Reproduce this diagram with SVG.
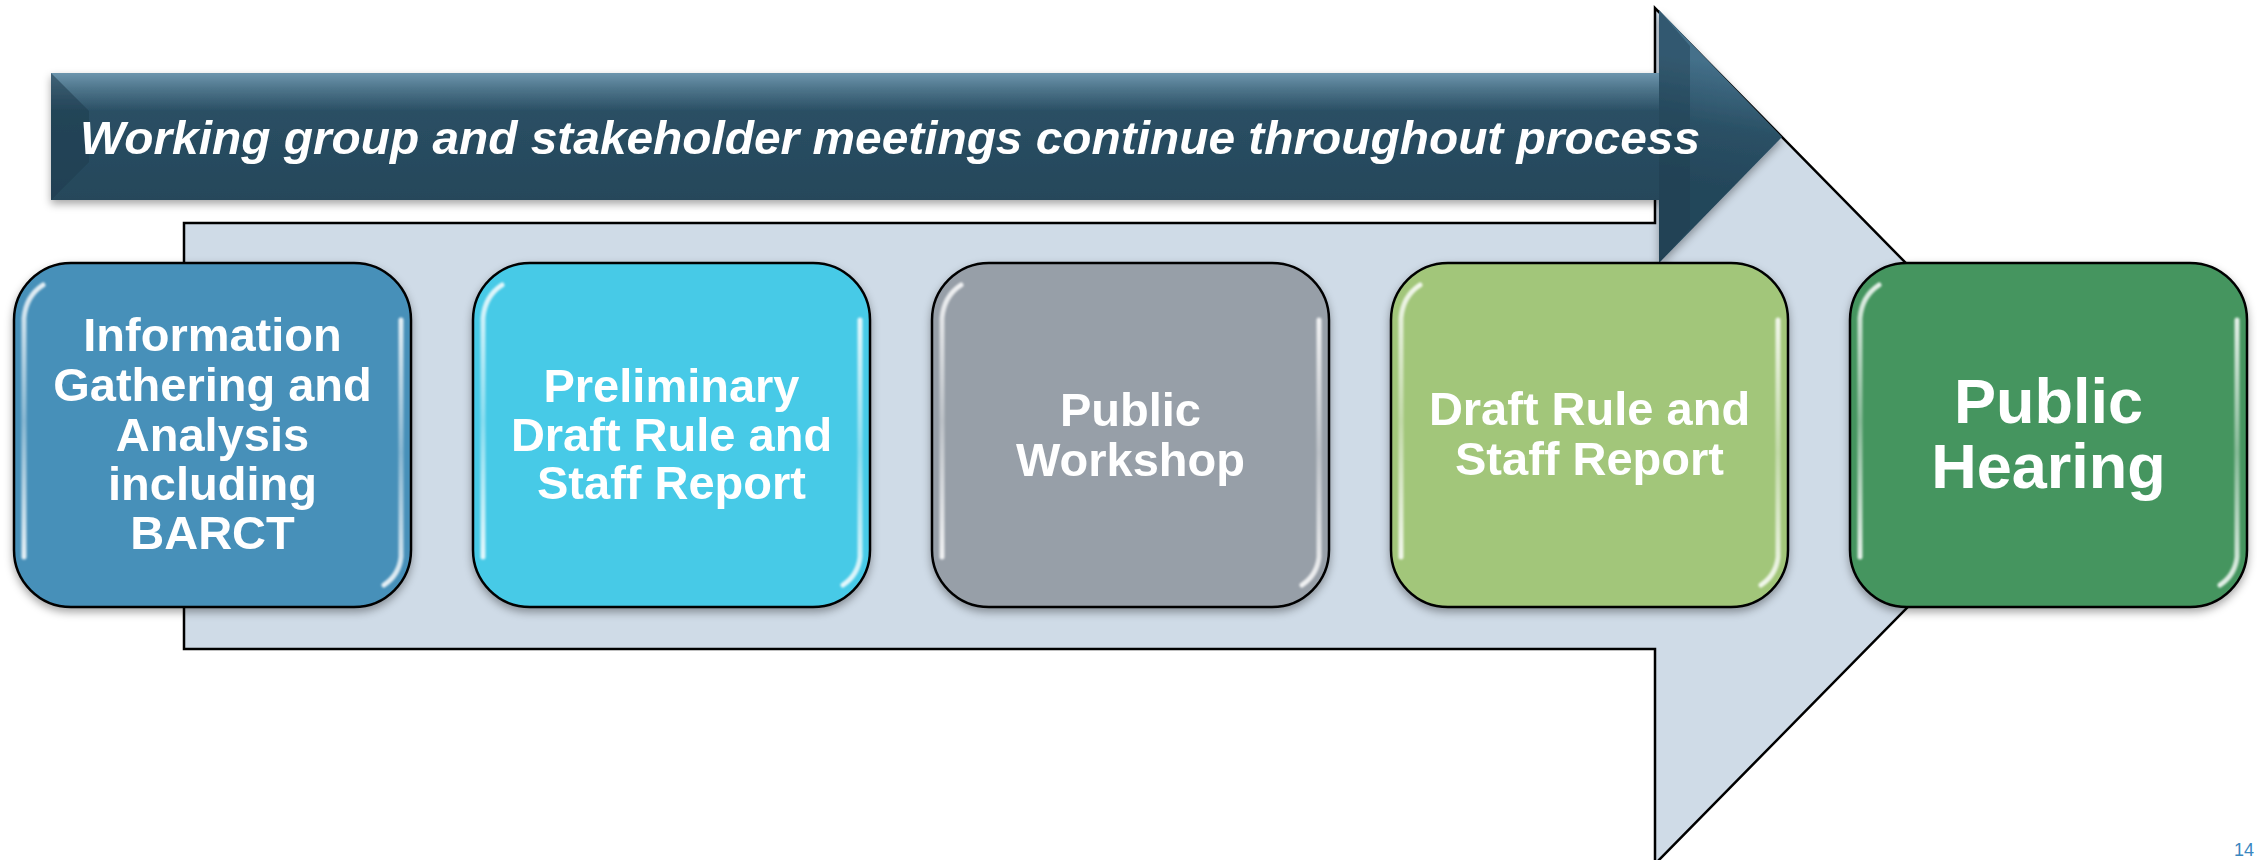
<svg xmlns="http://www.w3.org/2000/svg" width="2257" height="860" viewBox="0 0 2257 860">
  <defs>
    <style>
      .box { stroke: #000; stroke-width: 2.5; filter: url(#shadow); }
      .hl { fill: none; stroke: url(#hlgrad); stroke-width: 5; stroke-linecap: round; filter: url(#soft); }
      .lbl { font-family: "Liberation Sans", Arial, sans-serif; font-weight: bold; fill: #fff; text-anchor: middle; font-size: 47px; }
      .big { font-size: 63px; }
    </style>
    <filter id="shadow" x="-10%" y="-10%" width="120%" height="125%">
      <feDropShadow dx="0" dy="4" stdDeviation="4" flood-color="#000" flood-opacity="0.35"/>
    </filter>
    <filter id="soft" x="-50%" y="-10%" width="200%" height="120%">
      <feGaussianBlur stdDeviation="0.9"/>
    </filter>
    <linearGradient id="hlgrad" x1="0" y1="0" x2="0" y2="1">
      <stop offset="0" stop-color="#fff" stop-opacity="0.85"/>
      <stop offset="0.5" stop-color="#fff" stop-opacity="0.35"/>
      <stop offset="1" stop-color="#fff" stop-opacity="0.85"/>
    </linearGradient>
    <linearGradient id="bannerBody" gradientUnits="userSpaceOnUse" x1="0" y1="73" x2="0" y2="200">
      <stop offset="0" stop-color="#6C95AD"/>
      <stop offset="0.12" stop-color="#4F768C"/>
      <stop offset="0.3" stop-color="#2A4F64"/>
      <stop offset="1" stop-color="#25475A"/>
    </linearGradient>
    <linearGradient id="bannerHead" gradientUnits="userSpaceOnUse" x1="1700" y1="60" x2="1680" y2="180">
      <stop offset="0" stop-color="#44708A"/>
      <stop offset="0.5" stop-color="#2B5166"/>
      <stop offset="1" stop-color="#24465A"/>
    </linearGradient>
  </defs>

  <!-- big light process arrow -->
  <g id="process-arrow">
    <path d="M184,223 L1655,223 L1655,8 L2076,436 L1655,864 L1655,649 L184,649 Z" fill="#CFDBE7" stroke="#000" stroke-width="2.5"/>
  </g>

  <!-- dark banner arrow -->
  <g id="banner" filter="url(#shadow)">
    <rect x="51" y="73" width="1610" height="127" fill="url(#bannerBody)"/>
    <polygon points="51,73 89,111 89,162 51,200" fill="#1F3D4F" opacity="0.55"/>
    <polygon points="1659,10 1782,137 1659,263" fill="url(#bannerHead)"/>
    <polygon points="1659,10 1690,46 1690,228 1659,263" fill="#1F3D4F" opacity="0.45"/>
    <text x="80" y="154" font-family="'Liberation Sans', Arial, sans-serif" font-weight="bold" font-style="italic" font-size="46" fill="#fff" textLength="1620" lengthAdjust="spacingAndGlyphs">Working group and stakeholder meetings continue throughout process</text>
  </g>

  <!-- nodes -->
  <g id="node-info">
    <rect class="box" x="14" y="263" width="397" height="344" rx="57" fill="#4690B9"/>
    <path class="hl" d="M24,557 L24,318 Q26,296 43,285"/>
    <path class="hl" d="M401,320 L401,557 Q399,575 384,585"/>
    <text class="lbl" x="212.5" y="351">Information</text>
    <text class="lbl" x="212.5" y="401">Gathering and</text>
    <text class="lbl" x="212.5" y="451">Analysis</text>
    <text class="lbl" x="212.5" y="500">including</text>
    <text class="lbl" x="212.5" y="549">BARCT</text>
  </g>

  <g id="node-preliminary">
    <rect class="box" x="473" y="263" width="397" height="344" rx="57" fill="#47CAE7"/>
    <path class="hl" d="M483,557 L483,318 Q485,296 502,285"/>
    <path class="hl" d="M860,320 L860,557 Q858,575 843,585"/>
    <text class="lbl" x="671.5" y="402">Preliminary</text>
    <text class="lbl" x="671.5" y="451">Draft Rule and</text>
    <text class="lbl" x="671.5" y="499">Staff Report</text>
  </g>

  <g id="node-workshop">
    <rect class="box" x="932" y="263" width="397" height="344" rx="57" fill="#979FA8"/>
    <path class="hl" d="M942,557 L942,318 Q944,296 961,285"/>
    <path class="hl" d="M1319,320 L1319,557 Q1317,575 1302,585"/>
    <text class="lbl" x="1130.5" y="426">Public</text>
    <text class="lbl" x="1130.5" y="476">Workshop</text>
  </g>

  <g id="node-draft">
    <rect class="box" x="1391" y="263" width="397" height="344" rx="57" fill="#A2C67A"/>
    <path class="hl" d="M1401,557 L1401,318 Q1403,296 1420,285"/>
    <path class="hl" d="M1778,320 L1778,557 Q1776,575 1761,585"/>
    <text class="lbl" x="1589.5" y="425">Draft Rule and</text>
    <text class="lbl" x="1589.5" y="475">Staff Report</text>
  </g>

  <g id="node-hearing">
    <rect class="box" x="1850" y="263" width="397" height="344" rx="57" fill="#44955F"/>
    <path class="hl" d="M1860,557 L1860,318 Q1862,296 1879,285"/>
    <path class="hl" d="M2237,320 L2237,557 Q2235,575 2220,585"/>
    <text class="lbl big" x="2048.5" y="423">Public</text>
    <text class="lbl big" x="2048.5" y="488">Hearing</text>
  </g>

  <g id="connectors"></g>

  <text x="2254" y="856" text-anchor="end" font-family="'Liberation Sans', Arial, sans-serif" font-size="18" fill="#3A87C0">14</text>
</svg>
